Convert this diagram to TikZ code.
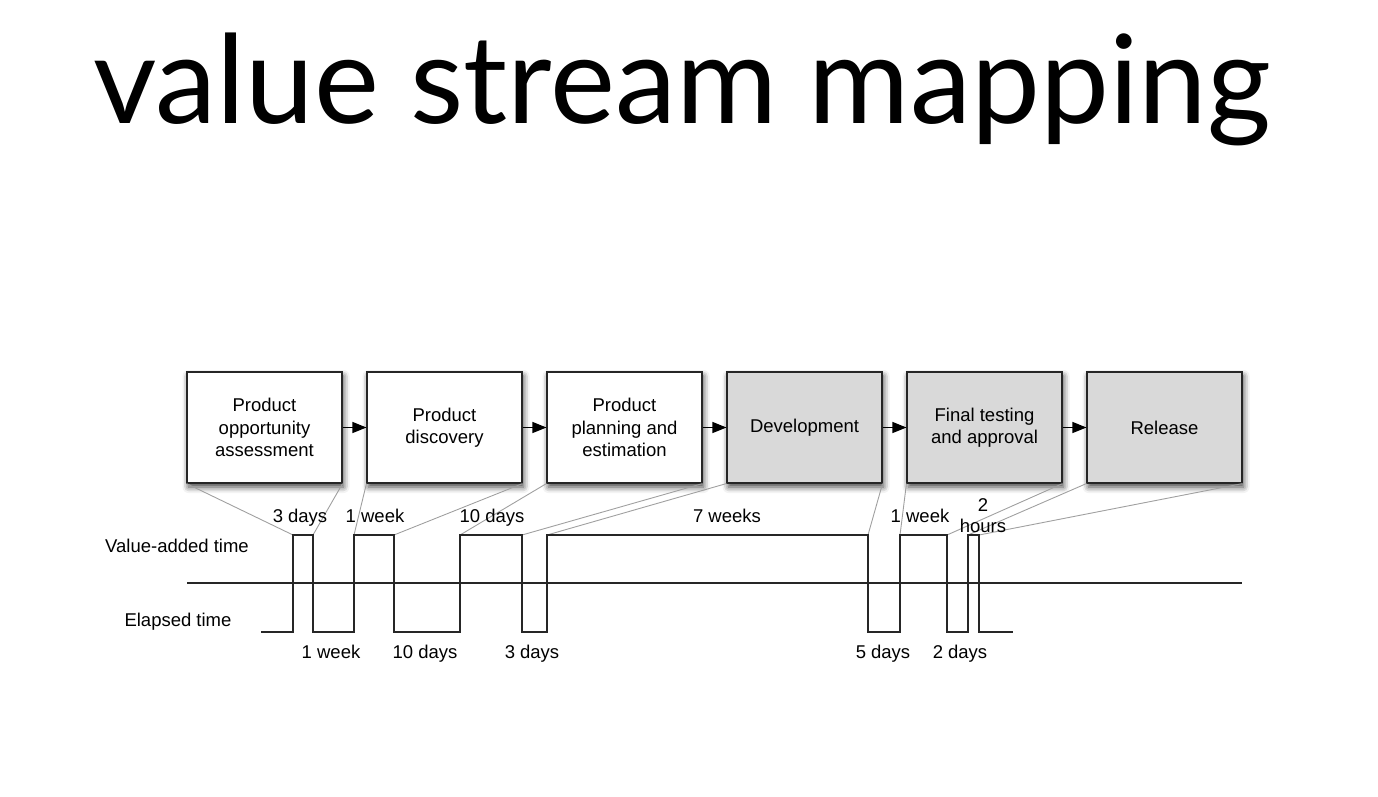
\documentclass[tikz,border=0pt]{standalone}
\usepackage{fontspec}
\setmainfont{Liberation Sans}
\newfontfamily\titlefont{Lato}
\usetikzlibrary{arrows.meta,shadows.blur}
\definecolor{boxgray}{HTML}{D9D9D9}
\definecolor{linkgray}{HTML}{A0A0A0}
\tikzset{
  stagebox/.style={draw=black!85, line width=1.1pt, minimum width=155pt, minimum height=111pt,
    inner sep=0pt, align=center, font=\fontsize{18.5}{22.5}\selectfont,
    blur shadow={shadow xshift=1.5pt, shadow yshift=-4pt, shadow blur radius=6pt, shadow opacity=75}},
  whitebox/.style={stagebox, fill=white},
  graybox/.style={stagebox, fill=boxgray},
  flow/.style={line width=1.1pt, -{Triangle[length=14pt,width=11pt]}},
  link/.style={draw=linkgray, line width=0.9pt},
  wave/.style={draw=black!85, line width=1.2pt, line join=miter},
  lbl/.style={anchor=base, inner sep=0pt, font=\fontsize{18.5}{22.5}\selectfont}
}
\begin{document}
\begin{tikzpicture}[x=1pt,y=-1pt]
\useasboundingbox (0,0) rectangle (1378,796);
% title
\node[anchor=base west, inner sep=0pt, font=\titlefont\fontsize{123}{140}\selectfont] (title) at (93,123) {value stream mapping};
% boxes
\node[whitebox] (b1) at (264.5,427.5) {Product\\opportunity\\assessment};
\node[whitebox] (b2) at (444.5,427.5) {Product\\discovery};
\node[whitebox] (b3) at (624.5,427.5) {Product\\planning and\\estimation};
\node[graybox] (b4) at (804.5,427.5) {Development};
\node[graybox] (b5) at (984.5,427.5) {Final testing\\and approval};
\node[graybox] (b6) at (1164.5,427.5) {Release};
\draw[flow] (b1) -- (b2);
\draw[flow] (b2) -- (b3);
\draw[flow] (b3) -- (b4);
\draw[flow] (b4) -- (b5);
\draw[flow] (b5) -- (b6);
% pulse corners
\coordinate (p1l) at (293,535); \coordinate (p1r) at (313,535);
\coordinate (p2l) at (354,535); \coordinate (p2r) at (394,535);
\coordinate (p3l) at (460,535); \coordinate (p3r) at (522,535);
\coordinate (p4l) at (547,535); \coordinate (p4r) at (868,535);
\coordinate (p5l) at (900,535); \coordinate (p5r) at (947,535);
\coordinate (p6l) at (968,535); \coordinate (p6r) at (979,535);
\coordinate (ws) at (261,632); \coordinate (we) at (1013,632);
\coordinate (axl) at (187,583); \coordinate (axr) at (1242,583);
% links
\draw[link] (b1.south west) -- (p1l);
\draw[link] (b1.south east) -- (p1r);
\draw[link] (b2.south west) -- (p2l);
\draw[link] (b2.south east) -- (p2r);
\draw[link] (b3.south west) -- (p3l);
\draw[link] (b3.south east) -- (p3r);
\draw[link] (b4.south west) -- (p4l);
\draw[link] (b4.south east) -- (p4r);
\draw[link] (b5.south west) -- (p5l);
\draw[link] (b5.south east) -- (p5r);
\draw[link] (b6.south west) -- (p6l);
\draw[link] (b6.south east) -- (p6r);
% axis
\draw[wave] (axl) -- (axr);
% wave
\draw[wave] (ws) -- (p1l |- ws) -- (p1l) -- (p1r) -- (p1r |- ws) -- (p2l |- ws) -- (p2l) -- (p2r) -- (p2r |- ws)
  -- (p3l |- ws) -- (p3l) -- (p3r) -- (p3r |- ws) -- (p4l |- ws) -- (p4l) -- (p4r) -- (p4r |- ws)
  -- (p5l |- ws) -- (p5l) -- (p5r) -- (p5r |- ws) -- (p6l |- ws) -- (p6l) -- (p6r) -- (p6r |- ws) -- (we);
% labels
\node[lbl] (va) at (177,552) {Value-added time};
\node[lbl] (et) at (178,626) {Elapsed time};
\node[lbl] (t1) at (300,522) {3 days};
\node[lbl] (t2) at (375,522) {1 week};
\node[lbl] (t3) at (492,522) {10 days};
\node[lbl] (t4) at (727,522) {7 weeks};
\node[lbl] (t5) at (920,522) {1 week};
\node[lbl] (t6a) at (983,511) {2};
\node[lbl] (t6b) at (983,532) {hours};
\node[lbl] (w1) at (331,658) {1 week};
\node[lbl] (w2) at (425,658) {10 days};
\node[lbl] (w3) at (532,658) {3 days};
\node[lbl] (w4) at (883,658) {5 days};
\node[lbl] (w5) at (960,658) {2 days};
\end{tikzpicture}
\end{document}
